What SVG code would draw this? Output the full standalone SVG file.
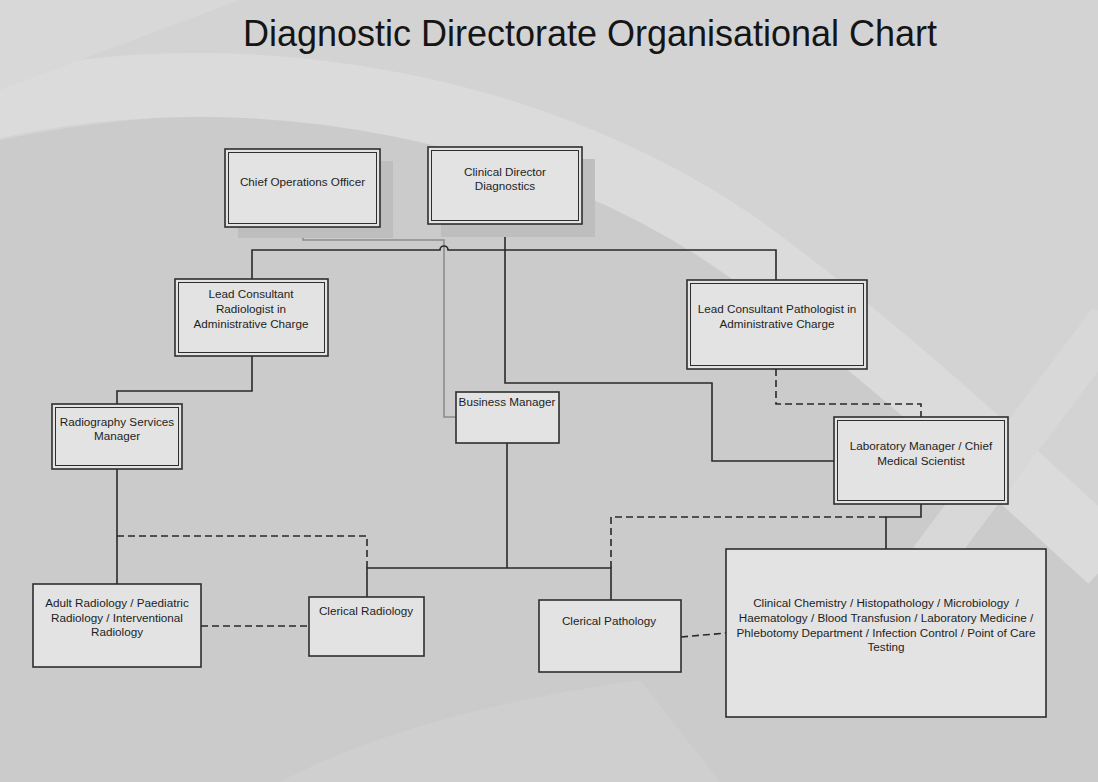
<svg xmlns="http://www.w3.org/2000/svg" width="1098" height="782" viewBox="0 0 1098 782">
<style>
.box{fill:#e3e3e3;stroke:#2e2e2e;stroke-width:1.6}
.inner{fill:none;stroke:#2e2e2e;stroke-width:1}
.shadow{fill:#bebebe}
.t{font-family:"Liberation Sans",Arial,sans-serif;font-size:11.7px;fill:#1e1e1e;text-anchor:middle;white-space:pre}
.title{font-family:"Liberation Sans",Arial,sans-serif;font-size:36px;fill:#151515}
.c{fill:none;stroke:#2a2a2a;stroke-width:1.6}
.g{fill:none;stroke:#8c8c8c;stroke-width:1.6}
.d{fill:none;stroke:#2a2a2a;stroke-width:1.6;stroke-dasharray:7 4}
</style>
<g id="background">
<rect x="0" y="0" width="1098" height="782" fill="#cbcbcb"/>
<path d="M0,0 H1098 V560 C1000,470 880,330 720,230 C560,130 300,80 0,140 Z" fill="#d3d3d3"/>
<path d="M-20,110 C250,45 560,110 760,260 C900,365 1000,460 1110,560" fill="none" stroke="#dbdbdb" stroke-width="64"/>
<path d="M930,560 L1110,320" fill="none" stroke="#d8d8d8" stroke-width="42"/>
<path d="M0,0 H240 C160,30 80,60 0,90 Z" fill="#d8d8d8"/>
<path d="M280,782 C380,730 500,700 640,680 L720,782 Z" fill="#cfcfcf"/>
</g>
<text class="title" x="243" y="46" textLength="694" lengthAdjust="spacingAndGlyphs">Diagnostic Directorate Organisational Chart</text>
<g id="connectors">
<path class="g" d="M303,227 V240 H444 V417 H456"/>
<path class="c" d="M252,279 V250 H440 A4,4 0 0 1 448,250 H776 V280"/>
<path class="c" d="M505,224 V383 H712 V461 H834"/>
<path class="c" d="M252,356 V391 H117 V404"/>
<path class="c" d="M117,469 V584"/>
<path class="c" d="M507,443 V568"/>
<path class="c" d="M367,597 V568 H611 V600"/>
<path class="c" d="M921,504 V517 H886 V549"/>
<path class="d" d="M776,369 V404 H921 V417"/>
<path class="d" d="M117,536 H367 V568"/>
<path class="d" d="M201,626 H309"/>
<path class="d" d="M611,568 V517 H886"/>
<path class="d" d="M681,637 L726,633"/>
</g>
<g id="coo">
<rect class="shadow" x="238" y="161" width="155" height="77"/>
<rect class="box" x="225" y="149" width="155" height="78"/>
<rect class="inner" x="228.5" y="152.5" width="148" height="71"/>
<text class="t" x="302.5" y="186">Chief Operations Officer</text>
</g>
<g id="clinical-director">
<rect class="shadow" x="441" y="159" width="154" height="78"/>
<rect class="box" x="428" y="147" width="154" height="77"/>
<rect class="inner" x="431.5" y="150.5" width="147" height="70"/>
<text class="t" x="505" y="176">Clinical Director</text>
<text class="t" x="505" y="190">Diagnostics</text>
</g>
<g id="lead-radiologist">
<rect class="box" x="175" y="279" width="153" height="77"/>
<rect class="inner" x="178.5" y="282.5" width="146" height="70"/>
<text class="t" x="251" y="298">Lead Consultant</text>
<text class="t" x="251" y="313">Radiologist in</text>
<text class="t" x="251" y="328">Administrative Charge</text>
</g>
<g id="lead-pathologist">
<rect class="box" x="687" y="280" width="180" height="89"/>
<rect class="inner" x="690.5" y="283.5" width="173" height="82"/>
<text class="t" x="777" y="313">Lead Consultant Pathologist in</text>
<text class="t" x="777" y="328">Administrative Charge</text>
</g>
<g id="radiography-manager">
<rect class="box" x="52" y="404" width="130" height="65"/>
<rect class="inner" x="55.5" y="407.5" width="123" height="58"/>
<text class="t" x="117" y="426">Radiography Services</text>
<text class="t" x="117" y="440">Manager</text>
</g>
<g id="business-manager">
<rect class="box" x="456" y="392" width="103" height="51"/>
<text class="t" x="507" y="406">Business Manager</text>
</g>
<g id="lab-manager">
<rect class="box" x="834" y="417" width="174" height="87"/>
<rect class="inner" x="837.5" y="420.5" width="167" height="80"/>
<text class="t" x="921" y="450">Laboratory Manager / Chief</text>
<text class="t" x="921" y="465">Medical Scientist</text>
</g>
<g id="adult-radiology">
<rect class="box" x="33" y="584" width="168" height="83"/>
<text class="t" x="117" y="607">Adult Radiology / Paediatric</text>
<text class="t" x="117" y="622">Radiology / Interventional</text>
<text class="t" x="117" y="636">Radiology</text>
</g>
<g id="clerical-radiology">
<rect class="box" x="309" y="597" width="115" height="59"/>
<text class="t" x="366" y="615">Clerical Radiology</text>
</g>
<g id="clerical-pathology">
<rect class="box" x="539" y="600" width="142" height="72"/>
<text class="t" x="609" y="625">Clerical Pathology</text>
</g>
<g id="laboratory-disciplines">
<rect class="box" x="726" y="549" width="320" height="168"/>
<text class="t" x="886" y="607">Clinical Chemistry / Histopathology / Microbiology  /</text>
<text class="t" x="886" y="622">Haematology / Blood Transfusion / Laboratory Medicine /</text>
<text class="t" x="886" y="637">Phlebotomy Department / Infection Control / Point of Care</text>
<text class="t" x="886" y="651">Testing</text>
</g>
</svg>
